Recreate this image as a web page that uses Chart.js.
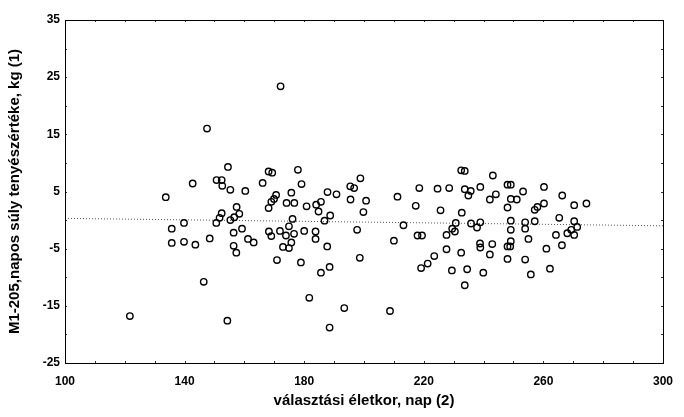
<!DOCTYPE html>
<html>
<head>
<meta charset="utf-8">
<script src="https://cdn.jsdelivr.net/npm/chart.js@4"></script>
<style>
  body { margin: 0; background: #fff; }
  #wrap { width: 684px; height: 417px; }
</style>
</head>
<body>
<div id="wrap"><canvas id="scatterChart"></canvas></div>
<script>
// válaszási életkor (nap) -> tenyészérték (kg)
var ages = [121.7, 133.7, 135.7, 135.7, 139.8, 139.8, 142.7, 143.6, 146.4, 147.5,
  148.4, 150.6, 150.7, 151.7, 152.4, 152.4, 152.6, 154.3, 154.5, 155.3,
  155.3, 156.4, 156.4, 156.6, 157.3, 157.4, 158.3, 159.2, 160.3, 161.2,
  163.1, 166.1, 168.1, 168.1, 168.2, 169.0, 169.3, 169.0, 169.9, 170.6,
  170.9, 171.9, 172.1, 172.9, 173.9, 174.1, 174.9, 174.9, 175.7, 175.7,
  176.1, 176.6, 176.7, 177.9, 178.9, 179.1, 180.0, 180.8, 181.7, 183.8,
  183.8, 184.0, 184.8, 185.6, 185.6, 186.8, 187.7, 187.8, 188.5, 188.5,
  188.7, 190.8, 193.4, 195.4, 195.5, 196.7, 197.7, 198.6, 198.8, 199.8,
  200.7, 208.7, 210.0, 211.2, 213.2, 217.3, 217.9, 218.5, 219.1, 219.4,
  221.3, 223.5, 224.6, 225.6, 227.6, 227.6, 228.5, 229.4, 229.5, 230.4,
  230.7, 232.5, 232.5, 232.7, 233.7, 233.7, 233.7, 234.5, 234.9, 235.7,
  235.8, 237.8, 238.8, 238.9, 238.9, 238.9, 239.9, 242.1, 242.1, 242.9,
  243.1, 244.1, 248.0, 248.0, 248.0, 248.0, 248.9, 249.1, 249.1, 249.1,
  249.1, 249.1, 251.1, 253.2, 253.9, 253.9, 253.9, 255.0, 255.8, 257.1,
  257.1, 258.0, 260.2, 260.2, 261.0, 262.2, 264.2, 265.3, 266.2, 266.3,
  268.0, 269.3, 270.3, 270.3, 270.3, 271.3, 274.4];
var values = [-16.8, 4.0, -1.5, -4.0, -0.5, -3.8, 6.4, -4.3, -10.8, 16.0,
  -3.2, -0.5, 7.0, 0.4, 7.0, 1.2, 6.0, -17.6, 9.3, 5.3,
  0.0, -2.2, -4.5, 0.5, -5.7, 2.3, 1.1, -1.5, 5.1, -3.3,
  -3.9, 6.5, 8.5, 2.1, -2.0, -2.8, 8.3, 3.2, 3.7, 4.4,
  -7.0, -1.9, 23.4, -4.7, -2.7, 3.0, -4.9, -1.1, -3.9, 4.8,
  0.2, -2.4, 3.0, 8.8, -7.4, 6.3, -1.9, 2.4, -13.6, -2.0,
  -3.3, 2.7, 1.5, 3.2, -9.2, -0.1, -4.6, 4.9, -18.8, -8.2,
  0.8, 4.5, -15.4, 5.9, 3.6, 5.6, -1.7, -6.6, 7.3, 1.4,
  3.4, -15.9, -3.6, 4.1, -0.9, 2.5, -2.7, 5.6, -8.4, -2.7,
  -7.6, -6.3, 5.5, 1.7, -5.1, -2.6, 5.6, -8.8, -1.5, -2.0,
  -0.5, 8.7, -5.7, 1.3, 8.6, -11.4, 5.4, -8.6, 4.3, 5.1,
  -0.6, -1.3, -4.1, -4.8, 5.8, -0.4, -9.2, -6.0, 3.6, -4.2,
  7.8, 4.5, -6.8, 2.2, 6.2, -4.6, -4.6, 6.2, -0.1, -1.7,
  -3.7, 3.7, 3.6, 5.0, -6.9, -0.4, -1.5, -3.3, -9.5, -0.2,
  1.8, 2.3, 2.9, 5.8, -5.0, -8.5, -2.6, 0.4, -4.4, 4.3,
  -2.3, -1.7, 2.6, -0.2, -2.6, -1.2, 2.9];

// regressziós egyenes végpontjai
var trendX = [100, 300];
var trendY = [0.3, -1.0];

var xTicks = [100, 140, 180, 220, 260, 300];
var yTicks = [-25, -15, -5, 5, 15, 25, 35];

var points = ages.map(function (a, i) {
  return { x: a, y: values[i] };
});
var trend = trendX.map(function (a, i) {
  return { x: a, y: trendY[i] };
});

// keret és apró befelé mutató osztások
var framePlugin = {
  id: 'frame',
  afterDraw: function (chart) {
    var a = chart.chartArea;
    var ctx = chart.ctx;
    var xs = chart.scales.x, ys = chart.scales.y;
    ctx.save();
    ctx.strokeStyle = '#000';
    ctx.lineWidth = 1;
    ctx.strokeRect(a.left + 0.5, a.top + 0.5, a.right - a.left, a.bottom - a.top);
    ctx.lineWidth = 0.8;
    ctx.beginPath();
    for (var v = 110; v < 300; v += 10) {
      var px = Math.round(xs.getPixelForValue(v)) + 0.5;
      ctx.moveTo(px, a.top); ctx.lineTo(px, a.top + 2);
      ctx.moveTo(px, a.bottom); ctx.lineTo(px, a.bottom - 2);
    }
    for (var w = -20; w < 35; w += 5) {
      var py = Math.round(ys.getPixelForValue(w)) + 0.5;
      ctx.moveTo(a.left, py); ctx.lineTo(a.left + 2, py);
      ctx.moveTo(a.right, py); ctx.lineTo(a.right - 2, py);
    }
    ctx.stroke();
    ctx.restore();
  }
};

Chart.defaults.font.family = '"Liberation Sans", Arial, sans-serif';
Chart.defaults.color = '#000';

var ctx = document.getElementById('scatterChart').getContext('2d');
var chart = new Chart(ctx, {
  type: 'scatter',
  data: {
    datasets: [{
      data: points,
      pointStyle: 'circle',
      pointRadius: 3.2,
      pointBorderWidth: 1.4,
      borderColor: '#000',
      backgroundColor: 'rgba(255,255,255,0)'
    }, {
      type: 'line',
      data: trend,
      borderColor: '#555',
      borderWidth: 1,
      borderDash: [1, 2],
      pointRadius: 0,
      fill: false
    }]
  },
  options: {
    responsive: true,
    maintainAspectRatio: false,
    animation: false,
    events: [],
    layout: { padding: { left: 0, right: 18, top: 20, bottom: 0 } },
    plugins: {
      legend: { display: false },
      tooltip: { enabled: false }
    },
    scales: {
      x: {
        type: 'linear',
        min: 100,
        max: 300,
        afterBuildTicks: function (scale) {
          scale.ticks = xTicks.map(function (v) { return { value: v }; });
        },
        afterFit: function (scale) { scale.height = 54; },
        grid: { display: false, drawTicks: false },
        border: { display: false },
        ticks: { font: { size: 12, weight: 'bold' }, padding: 11 },
        title: {
          display: true,
          text: 'választási életkor, nap (2)',
          font: { size: 15, weight: 'bold' },
          padding: { top: 0, bottom: 7 }
        }
      },
      y: {
        type: 'linear',
        min: -25,
        max: 35,
        afterBuildTicks: function (scale) {
          scale.ticks = yTicks.map(function (v) { return { value: v }; });
        },
        afterFit: function (scale) { scale.width = 65; },
        grid: { display: false, drawTicks: false },
        border: { display: false },
        ticks: { font: { size: 12, weight: 'bold' }, padding: 5 },
        title: {
          display: true,
          text: 'M1-205,napos súly tenyészértéke, kg (1)',
          font: { size: 15, weight: 'bold' },
          padding: { top: 6, bottom: 0 }
        }
      }
    }
  },
  plugins: [framePlugin]
});
</script>
</body>
</html>
